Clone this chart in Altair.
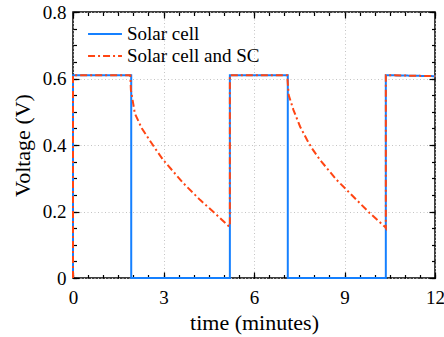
import altair as alt
import pandas as pd

# ---- data ----
solar_t = [0, 0, 1.93, 1.93, 5.20, 5.20, 7.12, 7.12, 10.37, 10.37, 12]
solar_v = [0, 0.61, 0.61, 0, 0, 0.61, 0.61, 0, 0, 0.61, 0.607]

sc_t = [0, 0, 1.90, 1.92, 2.05, 2.28, 2.50, 2.72, 2.99, 3.66, 4.21, 4.76, 5.15, 5.20, 5.20,
        7.10, 7.15, 7.31, 7.53, 7.76, 7.92, 8.19, 8.74, 9.29, 9.84, 10.34, 10.37, 10.37, 12]
sc_v = [0, 0.61, 0.61, 0.565, 0.495, 0.45, 0.42, 0.39, 0.355, 0.285, 0.235, 0.19, 0.157, 0.155, 0.61,
        0.61, 0.55, 0.505, 0.455, 0.415, 0.39, 0.355, 0.295, 0.245, 0.195, 0.154, 0.15, 0.61, 0.607]

series_names = ["Solar cell", "Solar cell and SC"]
series_colors = ["#1580ff", "#ff4513"]

x_major = [0, 3, 6, 9, 12]
x_minor = [i * 0.5 for i in range(25)]
y_major = [0, 0.2, 0.4, 0.6, 0.8]
y_minor = [round(i * 0.05, 2) for i in range(17)]

rows = []
for i, (t, v) in enumerate(zip(solar_t, solar_v)):
    rows.append({"t": t, "v": v, "s": series_names[0], "i": i})
for i, (t, v) in enumerate(zip(sc_t, sc_v)):
    rows.append({"t": t, "v": v, "s": series_names[1], "i": i})
df = pd.DataFrame(rows)

FONT = "Liberation Serif"
LEG_FONT = "Liberation Serif, Times New Roman, serif"
W, H = 362, 266


def xs():
    return alt.Scale(domain=[0, 12], nice=False, zero=False)


def ys():
    return alt.Scale(domain=[0, 0.8], nice=False, zero=False)


def axis(orient, values, size, labels=False, grid=False, title=None, fmt="~g",
         pad=7, tpad=6):
    kw = dict(
        orient=orient, values=values, domain=False, grid=False,
        labels=labels,
    )
    if title:
        kw.update(title=title, titleFont=FONT, titleFontSize=22, titleFontWeight="normal",
                  titleColor="black", titlePadding=tpad)
    else:
        kw.update(title=None)
    if grid:
        kw.update(grid=True, ticks=False, gridColor="#c4c4c4", gridDash=[1, 2.5], gridWidth=1)
    else:
        kw.update(ticks=True, tickSize=size, tickColor="black", tickWidth=1.2, offset=-size)
    if labels:
        kw.update(format=fmt, labelFont=FONT, labelFontSize=19, labelColor="black",
                  labelPadding=pad, labelFlush=False, labelOverlap=False)
    return alt.Axis(**kw)


leg = alt.Legend(title=None, orient="none", legendX=14, legendY=12,
                 symbolType="stroke", symbolSize=1150,
                 symbolStrokeWidth=2, labelFont=LEG_FONT,
                 labelFontSize=19, labelColor="black", labelLimit=300,
                 clipHeight=20, rowPadding=2, padding=0, labelOffset=4)

lines = alt.Chart(df).mark_line(strokeWidth=2).encode(
    x=alt.X("t:Q", scale=xs(), axis=axis("bottom", x_major, 6, labels=True,
                                          title="time (minutes)", pad=10, tpad=5)),
    y=alt.Y("v:Q", scale=ys(), axis=axis("left", y_major, 6, labels=True,
                                          title="Voltage (V)", pad=7, tpad=8)),
    color=alt.Color("s:N", scale=alt.Scale(domain=series_names, range=series_colors),
                    legend=leg),
    strokeDash=alt.StrokeDash("s:N", scale=alt.Scale(domain=series_names,
                                                     range=[[1, 0], [7, 3, 2, 3]]),
                              legend=leg),
    order="i:Q",
)


def helper(xax, yax):
    return alt.Chart(df).mark_point(opacity=0).encode(
        x=alt.X("t:Q", scale=xs(), axis=xax),
        y=alt.Y("v:Q", scale=ys(), axis=yax),
    )


grid = helper(axis("bottom", x_major, 0, grid=True), axis("left", y_major, 0, grid=True))
minor_bl = helper(axis("bottom", x_minor, 3.5), axis("left", y_minor, 3.5))
major_tr = helper(axis("top", x_major, 6), axis("right", y_major, 6))
minor_tr = helper(axis("top", x_minor, 3.5), axis("right", y_minor, 3.5))

chart = alt.layer(grid, minor_bl, major_tr, minor_tr, lines).resolve_scale(
    x="independent", y="independent"
).properties(
    width=W, height=H,
    autosize=alt.AutoSizeParams(type="none"),
    padding={"left": 73, "top": 12, "right": 9, "bottom": 59},
    background="white",
).configure_view(
    stroke="black", strokeWidth=1.5
)

chart.save("out.html", embed_options={"renderer": "svg", "actions": False})
